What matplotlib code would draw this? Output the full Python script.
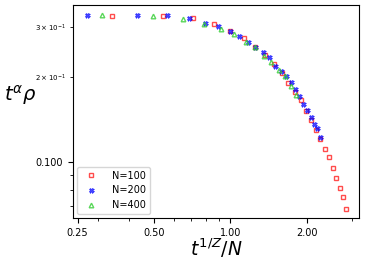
import matplotlib
matplotlib.use("Agg")
import matplotlib.pyplot as plt
from matplotlib.ticker import FormatStrFormatter, NullFormatter

# N=100
x100 = [0.343, 0.541, 0.711, 0.863, 0.997, 1.128, 1.254, 1.368, 1.484, 1.591, 1.684, 1.789,
        1.889, 1.988, 2.080, 2.176, 2.256, 2.347, 2.433, 2.523, 2.607, 2.687, 2.770, 2.846]
y100 = [0.329, 0.329, 0.322, 0.308, 0.290, 0.275, 0.256, 0.240, 0.222, 0.206, 0.190, 0.1775,
        0.1655, 0.1517, 0.1406, 0.1297, 0.1205, 0.1111, 0.1041, 0.0952, 0.0878, 0.0812, 0.0755, 0.0683]

# N=200
x200 = [0.272, 0.430, 0.564, 0.684, 0.793, 0.892, 0.997, 1.082, 1.170, 1.254, 1.348, 1.423,
        1.502, 1.581, 1.654, 1.725, 1.800, 1.866, 1.935, 2.000, 2.067, 2.137, 2.196, 2.256]
y200 = [0.330, 0.330, 0.330, 0.322, 0.310, 0.302, 0.290, 0.280, 0.2665, 0.256, 0.2457, 0.2346,
        0.2193, 0.2106, 0.2017, 0.1915, 0.1809, 0.1719, 0.1610, 0.1530, 0.1449, 0.1369, 0.1318, 0.1232]

# N=400
x400 = [0.313, 0.497, 0.650, 0.788, 0.914, 1.028, 1.149, 1.254, 1.360, 1.444, 1.548, 1.644, 1.725, 1.816]
y400 = [0.330, 0.329, 0.320, 0.307, 0.295, 0.284, 0.265, 0.256, 0.238, 0.226, 0.2117, 0.2022, 0.1859, 0.1728]

fig = plt.figure(figsize=(3.65, 2.59), dpi=100)
ax = fig.add_axes([0.200, 0.158, 0.784, 0.823])

ax.plot(x100, y100, 's', ls='none', mfc='none', mec='red', mew=1.0, ms=3.3, alpha=0.7, label='N=100')
ax.plot(x200, y200, 'X', ls='none', mfc='blue', mec='blue', mew=0.5, ms=3.6, alpha=0.7, label='N=200')
ax.plot(x400, y400, '^', ls='none', mfc='none', mec='limegreen', mew=1.0, ms=3.3, alpha=0.8, label='N=400')

ax.set_xscale('log')
ax.set_yscale('log')
ax.set_xlim(0.240, 3.21)
ax.set_ylim(0.0636, 0.359)

ax.set_xticks([0.25, 0.5, 1.0, 2.0])
ax.xaxis.set_major_formatter(FormatStrFormatter('%.2f'))
ax.xaxis.set_minor_formatter(NullFormatter())
ax.yaxis.set_major_formatter(FormatStrFormatter('%.3f'))
ax.tick_params(which='major', labelsize=7)
ax.tick_params(which='minor', labelsize=5)

ax.set_xlabel(r'$t^{1/Z}/N$', fontsize=13.5, labelpad=-1)
ax.set_ylabel(r'$t^{\alpha}\rho$', fontsize=14, rotation=0)
ax.yaxis.set_label_coords(-0.185, 0.52)

ax.legend(loc='lower left', fontsize=7, handletextpad=1.2, borderaxespad=0.4)

fig.savefig('out.png', dpi=100)
